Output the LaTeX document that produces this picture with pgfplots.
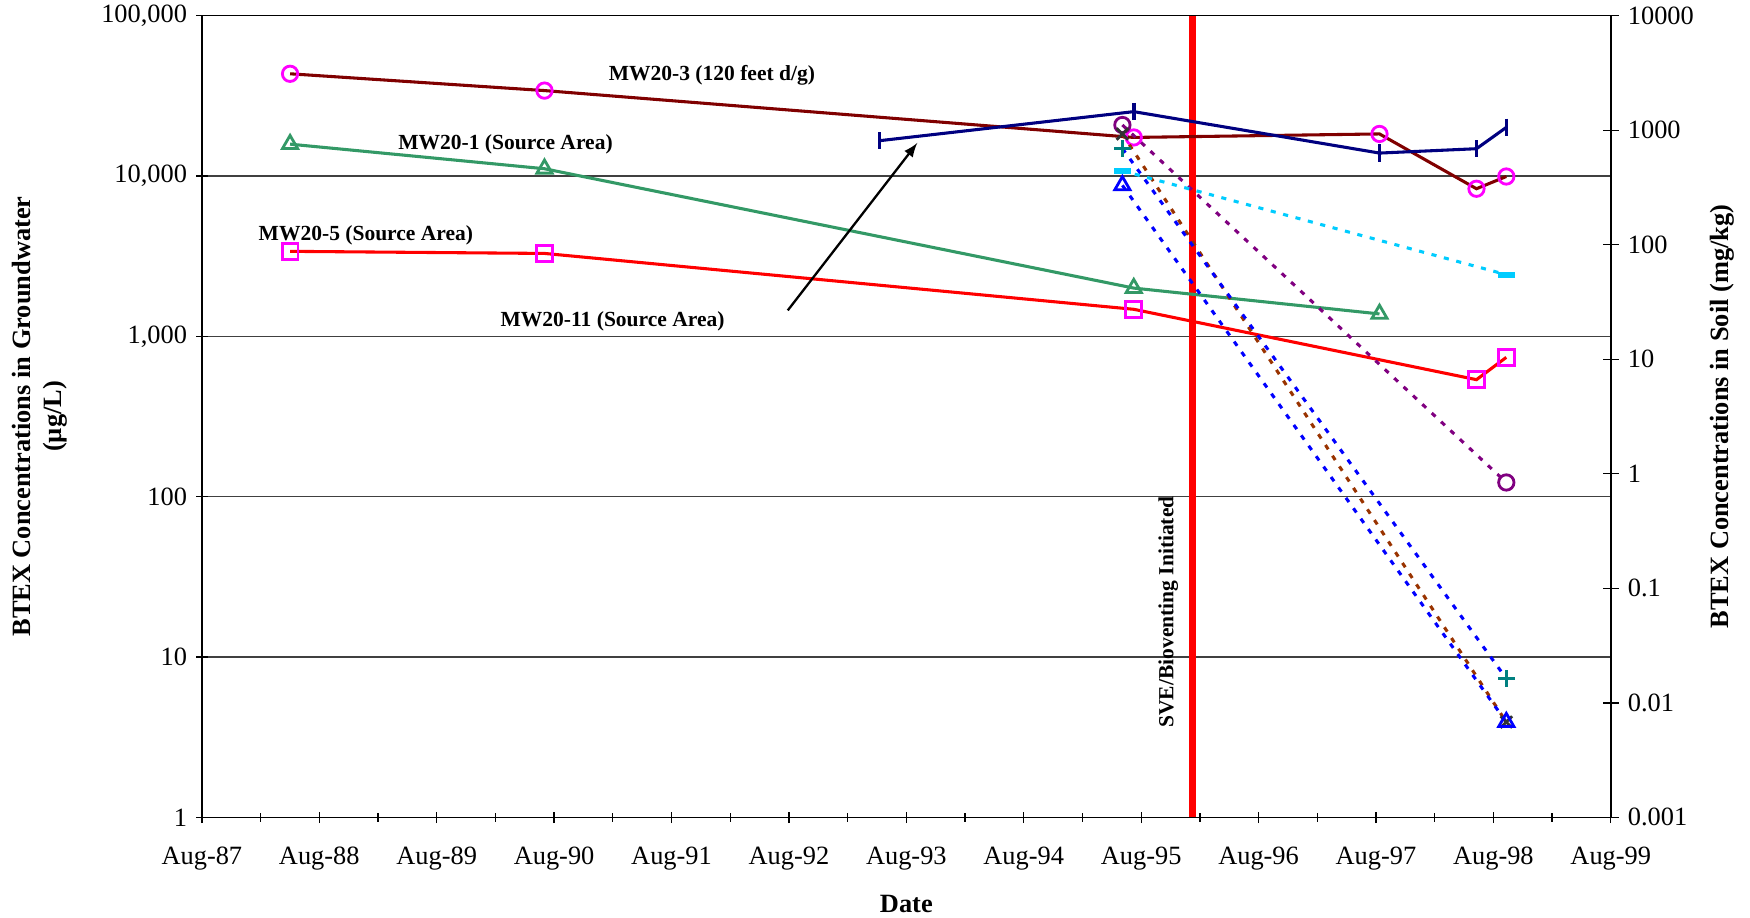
\documentclass[border=0pt]{standalone}
\usepackage{pgfplots}
\pgfplotsset{compat=1.18}
\usepackage{fontspec}
\setmainfont{Liberation Serif}
\definecolor{mwdarkred}{HTML}{800000}
\definecolor{mwgreen}{HTML}{339966}
\definecolor{mwred}{HTML}{FF0000}
\definecolor{mwnavy}{HTML}{000080}
\definecolor{mwmag}{HTML}{FF00FF}
\definecolor{mwpurple}{HTML}{800080}
\definecolor{mwsienna}{HTML}{993300}
\definecolor{mwblue}{HTML}{0000FF}
\definecolor{mwteal}{HTML}{008080}
\definecolor{mwcyan}{HTML}{00CCFF}
\definecolor{mwgray}{HTML}{333333}
\begin{document}
\begin{tikzpicture}
\begin{axis}[
  at={(0,0)}, anchor=south west, scale only axis,
  width=19.33cm, height=11cm,
  xmin=0, xmax=12, ymode=log, ymin=1, ymax=100000,
  xtick={0,...,12},
  xticklabels={Aug-87,Aug-88,Aug-89,Aug-90,Aug-91,Aug-92,Aug-93,Aug-94,Aug-95,Aug-96,Aug-97,Aug-98,Aug-99},
  minor xtick={0.5,1.5,...,11.5},
  ytick={1,10,100,1000,10000,100000},
  yticklabels={1,10,100,{1,000},{10,000},{100,000}},
  yminorticks=false,
  xtick pos=left, ytick pos=left,
  tick align=center,
  major tick length=0.16cm, minor tick length=0.12cm,
  tick style={black, line width=0.5pt},
  ymajorgrids, grid style={black!75, line width=0.6pt},
  axis line style={black, line width=0.6pt},
  /pgf/number format/assume math mode=true,
  ticklabel style={font=\fontsize{10.3}{12}\selectfont},
  xticklabel style={yshift=-0.2cm},
  xlabel={Date},
  xlabel style={font=\bfseries\fontsize{10.3}{12}\selectfont, at={(axis description cs:0.5,-0.108)}, anchor=center},
  ylabel={BTEX Concentrations in Groundwater\\(µg/L)},
  ylabel style={font=\bfseries\fontsize{10.3}{12}\selectfont, align=center, at={(axis description cs:-0.115,0.5)}, anchor=center},
  clip=false,
]
% SVE line
\addplot[mwred, line width=2.6pt, no marks] coordinates {(8.44,1) (8.44,100000)};
% MW20-3
\addplot[mwdarkred, line width=1.2pt, mark=o, mark size=3pt, mark options={mwmag, line width=1.1pt}] coordinates {
 (0.751,43400) (2.918,34100) (7.937,17400) (10.03,18300) (10.856,8330) (11.11,9930)};
% MW20-1
\addplot[mwgreen, line width=1.2pt, mark=triangle, mark size=3.4pt, mark options={mwgreen, line width=1.1pt}] coordinates {
 (0.751,15800) (2.918,11100) (7.937,2000) (10.03,1380)};
% MW20-5
\addplot[mwred, line width=1.2pt, mark=square, mark size=3.1pt, mark options={mwmag, line width=1.1pt}] coordinates {
 (0.751,3390) (2.918,3290) (7.937,1475) (10.856,537) (11.11,740)};
% MW20-11
\addplot[mwnavy, line width=1.2pt, mark=|, mark size=3.4pt, mark options={mwnavy, line width=1.4pt}] coordinates {
 (5.77,16600) (7.937,25200) (10.03,13900) (10.856,14800) (11.11,20100)};
\node[font=\bfseries\fontsize{8.4}{10}\selectfont] at (axis cs:4.344,42760) {MW20-3 (120 feet d/g)};
\node[font=\bfseries\fontsize{8.4}{10}\selectfont] at (axis cs:2.586,15800) {MW20-1 (Source Area)};
\node[font=\bfseries\fontsize{8.4}{10}\selectfont] at (axis cs:1.397,4250) {MW20-5 (Source Area)};
\node[font=\bfseries\fontsize{8.4}{10}\selectfont] at (axis cs:3.498,1236) {MW20-11 (Source Area)};
\node[font=\bfseries\fontsize{8.4}{10}\selectfont, rotate=90] at (axis cs:8.232,19.1) {SVE/Bioventing Initiated};
\draw[-latex, line width=0.9pt] (axis cs:4.99,1452) -- (axis cs:6.093,16070);
\end{axis}
\begin{axis}[
  at={(0,0)}, anchor=south west, scale only axis,
  width=19.33cm, height=11cm,
  xmin=0, xmax=12, ymode=log, ymin=0.001, ymax=10000,
  axis y line*=right, axis x line=none,
  ytick={0.001,0.01,0.1,1,10,100,1000,10000},
  yticklabels={0.001,0.01,0.1,1,10,100,1000,10000},
  yminorticks=false,
  tick align=center,
  major tick length=0.22cm,
  tick style={black, line width=0.5pt},
  axis line style={black, line width=0.6pt},
  /pgf/number format/assume math mode=true,
  ticklabel style={font=\fontsize{10.3}{12}\selectfont},
  ylabel={BTEX Concentrations in Soil (mg/kg)},
  ylabel style={font=\bfseries\fontsize{10.3}{12}\selectfont, at={(axis description cs:1.079,0.5)}, anchor=center, rotate=0},
  clip=false,
  soil/.style={line width=1.2pt, dash pattern=on 2pt off 3pt},
]
\addplot[soil, mwpurple, mark=o, mark size=3pt, mark options={solid, mwpurple, line width=1.1pt}] coordinates {(7.84,1110) (11.11,0.84)};
\addplot[soil, mwsienna, mark=x, mark size=3.2pt, mark options={solid, mwgray, line width=1.1pt}] coordinates {(7.84,927) (11.11,0.0068)};
\addplot[soil, mwblue, mark=+, mark size=3.2pt, mark options={solid, mwteal, line width=1.1pt}] coordinates {(7.84,692) (11.11,0.0163)};
\addplot[soil, mwcyan, mark=-, mark size=3.4pt, mark options={solid, mwcyan, line width=2.4pt}] coordinates {(7.84,442) (11.11,54.8)};
\addplot[soil, mwblue, mark=triangle, mark size=3.4pt, mark options={solid, mwblue, line width=1.1pt}] coordinates {(7.84,330) (11.11,0.0068)};
\end{axis}
\pgfresetboundingbox
\path[use as bounding box] (-2.77,-1.38) rectangle (21.24,11.215);
\end{tikzpicture}
\end{document}
